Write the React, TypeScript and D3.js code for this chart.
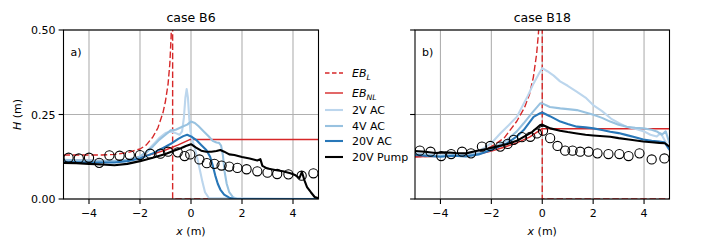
import React from "react";
import * as d3 from "d3";

// ---- case B6 ----
const b6ObsX = [-4.8, -4.4, -4.0, -3.6, -3.2, -2.8, -2.4, -2.0, -1.6, -1.2, -0.9, -0.52, -0.25, -0.03, 0.33, 0.62, 0.92, 1.2, 1.5, 1.82, 2.18, 2.6, 3.0, 3.38, 3.82, 4.34, 4.8];
const b6ObsY = [0.122, 0.12, 0.122, 0.107, 0.129, 0.128, 0.13, 0.13, 0.134, 0.134, 0.14, 0.138, 0.127, 0.132, 0.117, 0.106, 0.104, 0.099, 0.096, 0.092, 0.088, 0.082, 0.078, 0.074, 0.073, 0.069, 0.076];

const b6EbLX = [-5, -4.5, -4, -3.5, -3, -2.5, -2, -1.75, -1.5, -1.3, -1.1, -1.0, -0.9, -0.83, -0.78, -0.75, -0.72, -0.72, 5];
const b6EbLY = [0.13, 0.13, 0.13, 0.13, 0.132, 0.137, 0.148, 0.16, 0.183, 0.21, 0.255, 0.29, 0.34, 0.4, 0.48, 0.56, 0.7, 0, 0];

const b6EbNLX = [-5, -4, -3, -2.5, -2, -1.5, -1, -0.5, -0.05, 5];
const b6EbNLY = [0.115, 0.114, 0.113, 0.117, 0.124, 0.133, 0.145, 0.16, 0.176, 0.176];

const b6Ac2X = [-5, -4.5, -4, -3.5, -3, -2.5, -2, -1.75, -1.5, -1.25, -1, -0.8, -0.6, -0.45, -0.35, -0.28, -0.22, -0.17, -0.12, -0.07, -0.02, 0.05, 0.15, 0.25, 0.35, 0.45, 0.55, 0.7, 5];
const b6Ac2Y = [0.114, 0.113, 0.114, 0.111, 0.111, 0.114, 0.125, 0.14, 0.16, 0.18, 0.195, 0.2, 0.195, 0.19, 0.2, 0.24, 0.3, 0.325, 0.3, 0.24, 0.2, 0.175, 0.15, 0.12, 0.085, 0.05, 0.02, 0.003, 0];

const b6Ac4X = [-5, -4, -3, -2.5, -2, -1.75, -1.5, -1.25, -1, -0.8, -0.6, -0.45, -0.3, -0.15, 0, 0.15, 0.3, 0.5, 0.7, 0.85, 1.0, 1.1, 1.18, 1.25, 1.32, 1.4, 1.5, 1.65, 1.8, 5];
const b6Ac4Y = [0.116, 0.114, 0.113, 0.116, 0.126, 0.138, 0.155, 0.175, 0.19, 0.203, 0.205, 0.21, 0.215, 0.22, 0.229, 0.225, 0.215, 0.2, 0.185, 0.172, 0.167, 0.166, 0.158, 0.13, 0.08, 0.045, 0.02, 0.005, 0, 0];

const b6Ac20X = [-5, -4, -3, -2.5, -2, -1.5, -1, -0.75, -0.5, -0.3, -0.15, 0, 0.2, 0.4, 0.6, 0.75, 0.85, 0.95, 1.05, 1.15, 1.3, 1.5, 1.7, 5];
const b6Ac20Y = [0.11, 0.108, 0.108, 0.112, 0.12, 0.135, 0.155, 0.165, 0.178, 0.186, 0.19, 0.185, 0.175, 0.16, 0.145, 0.125, 0.1, 0.07, 0.045, 0.028, 0.013, 0.004, 0, 0];

const b6PumpX = [-5, -4.5, -4, -3.5, -3, -2.5, -2, -1.5, -1, -0.7, -0.4, -0.2, 0, 0.2, 0.4, 0.6, 0.8, 1.0, 1.15, 1.3, 1.5, 1.7, 2.0, 2.3, 2.6, 2.72, 2.8, 3.0, 3.3, 3.6, 3.9, 4.1, 4.25, 4.35, 4.45, 4.55, 4.7, 4.85, 5];
const b6PumpY = [0.107, 0.106, 0.104, 0.102, 0.1, 0.104, 0.112, 0.122, 0.133, 0.142, 0.15, 0.157, 0.162, 0.152, 0.143, 0.14, 0.14, 0.142, 0.145, 0.14, 0.132, 0.13, 0.124, 0.12, 0.114, 0.118, 0.098, 0.09, 0.086, 0.082, 0.076, 0.07, 0.062, 0.08, 0.055, 0.035, 0.02, 0.006, 0.002];

// ---- case B18 ----
const b18ObsX = [-4.81, -4.39, -3.97, -3.58, -3.15, -2.8, -2.37, -2.04, -1.65, -1.36, -1.12, -0.8, -0.47, -0.21, 0.03, 0.31, 0.6, 0.9, 1.19, 1.49, 1.82, 2.17, 2.6, 3.03, 3.39, 3.82, 4.3, 4.8];
const b18ObsY = [0.143, 0.14, 0.127, 0.133, 0.14, 0.135, 0.155, 0.157, 0.155, 0.163, 0.175, 0.183, 0.184, 0.194, 0.202, 0.18, 0.157, 0.143, 0.143, 0.14, 0.14, 0.135, 0.133, 0.133, 0.127, 0.135, 0.117, 0.12];

const b18EbLX = [-5, -4, -3, -2.5, -2, -1.5, -1.0, -0.7, -0.5, -0.35, -0.22, -0.15, -0.1, -0.05, 0, 0, 5];
const b18EbLY = [0.125, 0.127, 0.132, 0.14, 0.155, 0.18, 0.23, 0.27, 0.31, 0.36, 0.43, 0.49, 0.55, 0.65, 0.8, 0, 0];

const b18EbNLX = [-5, -4, -3, -2.5, -2, -1.5, -1, -0.5, 0, 5];
const b18EbNLY = [0.125, 0.126, 0.127, 0.133, 0.142, 0.153, 0.166, 0.183, 0.208, 0.208];

const b18Ac2X = [-5, -4.6, -4.2, -3.8, -3.4, -3, -2.6, -2.3, -2, -1.65, -1.3, -1, -0.6, -0.34, -0.1, 0, 0.2, 0.45, 0.7, 1.0, 1.35, 1.7, 2.0, 2.35, 2.7, 3.0, 3.3, 3.65, 4.0, 4.25, 4.5, 4.65, 4.8, 5];
const b18Ac2Y = [0.135, 0.133, 0.128, 0.13, 0.132, 0.13, 0.14, 0.15, 0.165, 0.194, 0.22, 0.243, 0.3, 0.342, 0.375, 0.387, 0.378, 0.365, 0.348, 0.335, 0.318, 0.3, 0.278, 0.26, 0.238, 0.225, 0.214, 0.208, 0.2, 0.19, 0.185, 0.195, 0.175, 0.15];

const b18Ac4X = [-5, -4.5, -4, -3.5, -3, -2.5, -2, -1.6, -1.38, -1, -0.73, -0.4, -0.08, 0, 0.3, 0.71, 1.0, 1.36, 1.7, 2.01, 2.35, 2.67, 3.0, 3.32, 3.65, 3.97, 4.3, 4.5, 4.7, 4.85, 5];
const b18Ac4Y = [0.132, 0.13, 0.127, 0.13, 0.128, 0.135, 0.148, 0.165, 0.175, 0.2, 0.224, 0.255, 0.283, 0.283, 0.272, 0.268, 0.266, 0.263, 0.256, 0.249, 0.24, 0.229, 0.22, 0.214, 0.211, 0.209, 0.205, 0.2, 0.19, 0.2, 0.165];

const b18Ac20X = [-5, -4.5, -4, -3.5, -3, -2.5, -2, -1.7, -1.38, -1, -0.73, -0.34, -0.08, 0, 0.3, 0.71, 1.0, 1.36, 1.7, 2.01, 2.35, 2.67, 3.0, 3.32, 3.65, 3.97, 4.3, 4.6, 4.8, 5];
const b18Ac20Y = [0.13, 0.127, 0.125, 0.128, 0.126, 0.132, 0.145, 0.155, 0.165, 0.185, 0.204, 0.243, 0.254, 0.256, 0.245, 0.229, 0.222, 0.214, 0.212, 0.209, 0.204, 0.199, 0.195, 0.189, 0.183, 0.176, 0.172, 0.17, 0.168, 0.145];

const b18PumpX = [-5, -4.6, -4.2, -3.8, -3.4, -3, -2.6, -2.2, -1.8, -1.4, -1.0, -0.73, -0.4, -0.08, 0, 0.32, 0.7, 1.0, 1.36, 1.7, 2.0, 2.67, 3.0, 3.4, 3.97, 4.3, 4.6, 4.82, 5];
const b18PumpY = [0.142, 0.14, 0.136, 0.138, 0.136, 0.135, 0.142, 0.148, 0.155, 0.162, 0.172, 0.184, 0.198, 0.219, 0.22, 0.209, 0.202, 0.198, 0.194, 0.19, 0.188, 0.184, 0.18, 0.176, 0.17, 0.168, 0.166, 0.165, 0.155];

const xTicks = [-4, -2, 0, 2, 4];
const yTicks = [0, 0.25, 0.5];

const RED = "#d62728";
const C2 = "#bcd6ed";
const C4 = "#98c2e0";
const C20 = "#2877b8";
const FONT = "DejaVu Sans, sans-serif";

const pts = (xs: number[], ys: number[]) => xs.map((v, i) => [v, ys[i]] as [number, number]);

const styles = [
  { color: RED, width: 1.4, dash: "6.5,2.8" },
  { color: RED, width: 1.4, dash: null },
  { color: C2, width: 2.1, dash: null },
  { color: C4, width: 2.1, dash: null },
  { color: C20, width: 2.1, dash: null },
  { color: "#000", width: 2.1, dash: null },
];

const TOP = 30;
const BOTTOM = 199;

function Panel({ id, left, right, title, tag, showY, obsX, obsY, lines }: any) {
  const x = d3.scaleLinear().domain([-5, 5]).range([left, right]);
  const y = d3.scaleLinear().domain([0, 0.5]).range([BOTTOM, TOP]);
  const line = d3.line<[number, number]>().x((d) => x(d[0])).y((d) => y(d[1]));
  const fx = d3.format("");
  const fy = d3.format(".2f");
  const mid = (left + right) / 2;
  return (
    <g fontFamily={FONT}>
      <defs>
        <clipPath id={id}>
          <rect x={left} y={TOP} width={right - left} height={BOTTOM - TOP} />
        </clipPath>
      </defs>
      {xTicks.map((t) => (
        <line key={"gx" + t} x1={x(t)} x2={x(t)} y1={TOP} y2={BOTTOM} stroke="#b0b0b0" strokeWidth={1.1} />
      ))}
      {yTicks.map((t) => (
        <line key={"gy" + t} x1={left} x2={right} y1={y(t)} y2={y(t)} stroke="#b0b0b0" strokeWidth={1.1} />
      ))}
      <g clipPath={`url(#${id})`}>
        {lines.map((l: any, i: number) => (
          <path
            key={i}
            d={line(pts(l[0], l[1])) || ""}
            fill="none"
            stroke={styles[i].color}
            strokeWidth={styles[i].width}
            strokeDasharray={styles[i].dash || undefined}
            strokeLinejoin="round"
          />
        ))}
        {obsX.map((v: number, i: number) => (
          <circle key={"o" + i} cx={x(v)} cy={y(obsY[i])} r={4.6} fill="none" stroke="#000" strokeWidth={1.1} />
        ))}
      </g>
      <rect x={left} y={TOP} width={right - left} height={BOTTOM - TOP} fill="none" stroke="#000" strokeWidth={1.1} />
      {xTicks.map((t) => (
        <g key={"tx" + t}>
          <line x1={x(t)} x2={x(t)} y1={BOTTOM} y2={BOTTOM + 4.9} stroke="#000" strokeWidth={1.1} />
          <text x={x(t)} y={217} fontSize={11} textAnchor="middle">{fx(t)}</text>
        </g>
      ))}
      {yTicks.map((t) => (
        <g key={"ty" + t}>
          <line x1={left - 4.9} x2={left} y1={y(t)} y2={y(t)} stroke="#000" strokeWidth={1.1} />
          {showY && (
            <text x={left - 8} y={y(t) + 4} fontSize={11} textAnchor="end">{fy(t)}</text>
          )}
        </g>
      ))}
      <text x={mid} y={21.5} fontSize={12.5} textAnchor="middle">{title}</text>
      <text x={left + 7} y={55.5} fontSize={11}>{tag}</text>
      <text x={mid} y={235} fontSize={11} textAnchor="middle">
        <tspan fontStyle="italic">x</tspan> (m)
      </text>
      {showY && (
        <text transform={`translate(21,${y(0.25)}) rotate(-90)`} fontSize={11} textAnchor="middle">
          <tspan fontStyle="italic">H</tspan> (m)
        </text>
      )}
    </g>
  );
}

function Legend() {
  const rows = [73, 93, 110, 126, 141, 157];
  const labels: any[] = [
    <>
      <tspan fontStyle="italic">EB</tspan>
      <tspan fontStyle="italic" fontSize={7.7} dy={2.5}>L</tspan>
    </>,
    <>
      <tspan fontStyle="italic">EB</tspan>
      <tspan fontStyle="italic" fontSize={7.7} dy={2.5}>NL</tspan>
    </>,
    "2V AC",
    "4V AC",
    "20V AC",
    "20V Pump",
  ];
  return (
    <g fontFamily={FONT} fontSize={11}>
      {rows.map((r, i) => (
        <g key={i}>
          <line
            x1={325}
            x2={343}
            y1={r}
            y2={r}
            stroke={styles[i].color}
            strokeWidth={styles[i].width}
            strokeDasharray={styles[i].dash ? "4.5,2.5" : undefined}
          />
          <text x={352} y={r + 4}>{labels[i]}</text>
        </g>
      ))}
    </g>
  );
}

export default function App() {
  const b6Lines = [
    [b6EbLX, b6EbLY],
    [b6EbNLX, b6EbNLY],
    [b6Ac2X, b6Ac2Y],
    [b6Ac4X, b6Ac4Y],
    [b6Ac20X, b6Ac20Y],
    [b6PumpX, b6PumpY],
  ];
  const b18Lines = [
    [b18EbLX, b18EbLY],
    [b18EbNLX, b18EbNLY],
    [b18Ac2X, b18Ac2Y],
    [b18Ac4X, b18Ac4Y],
    [b18Ac20X, b18Ac20Y],
    [b18PumpX, b18PumpY],
  ];
  return (
    <svg
      width={708}
      height={250}
      style={{ position: "fixed", left: 0, top: 0, background: "#fff" }}
    >
      <rect width={708} height={250} fill="#fff" />
      <Panel id="clipB6" left={63.5} right={318.5} title="case B6" tag="a)" showY obsX={b6ObsX} obsY={b6ObsY} lines={b6Lines} />
      <Panel id="clipB18" left={415} right={669.5} title="case B18" tag="b)" showY={false} obsX={b18ObsX} obsY={b18ObsY} lines={b18Lines} />
      <Legend />
    </svg>
  );
}
